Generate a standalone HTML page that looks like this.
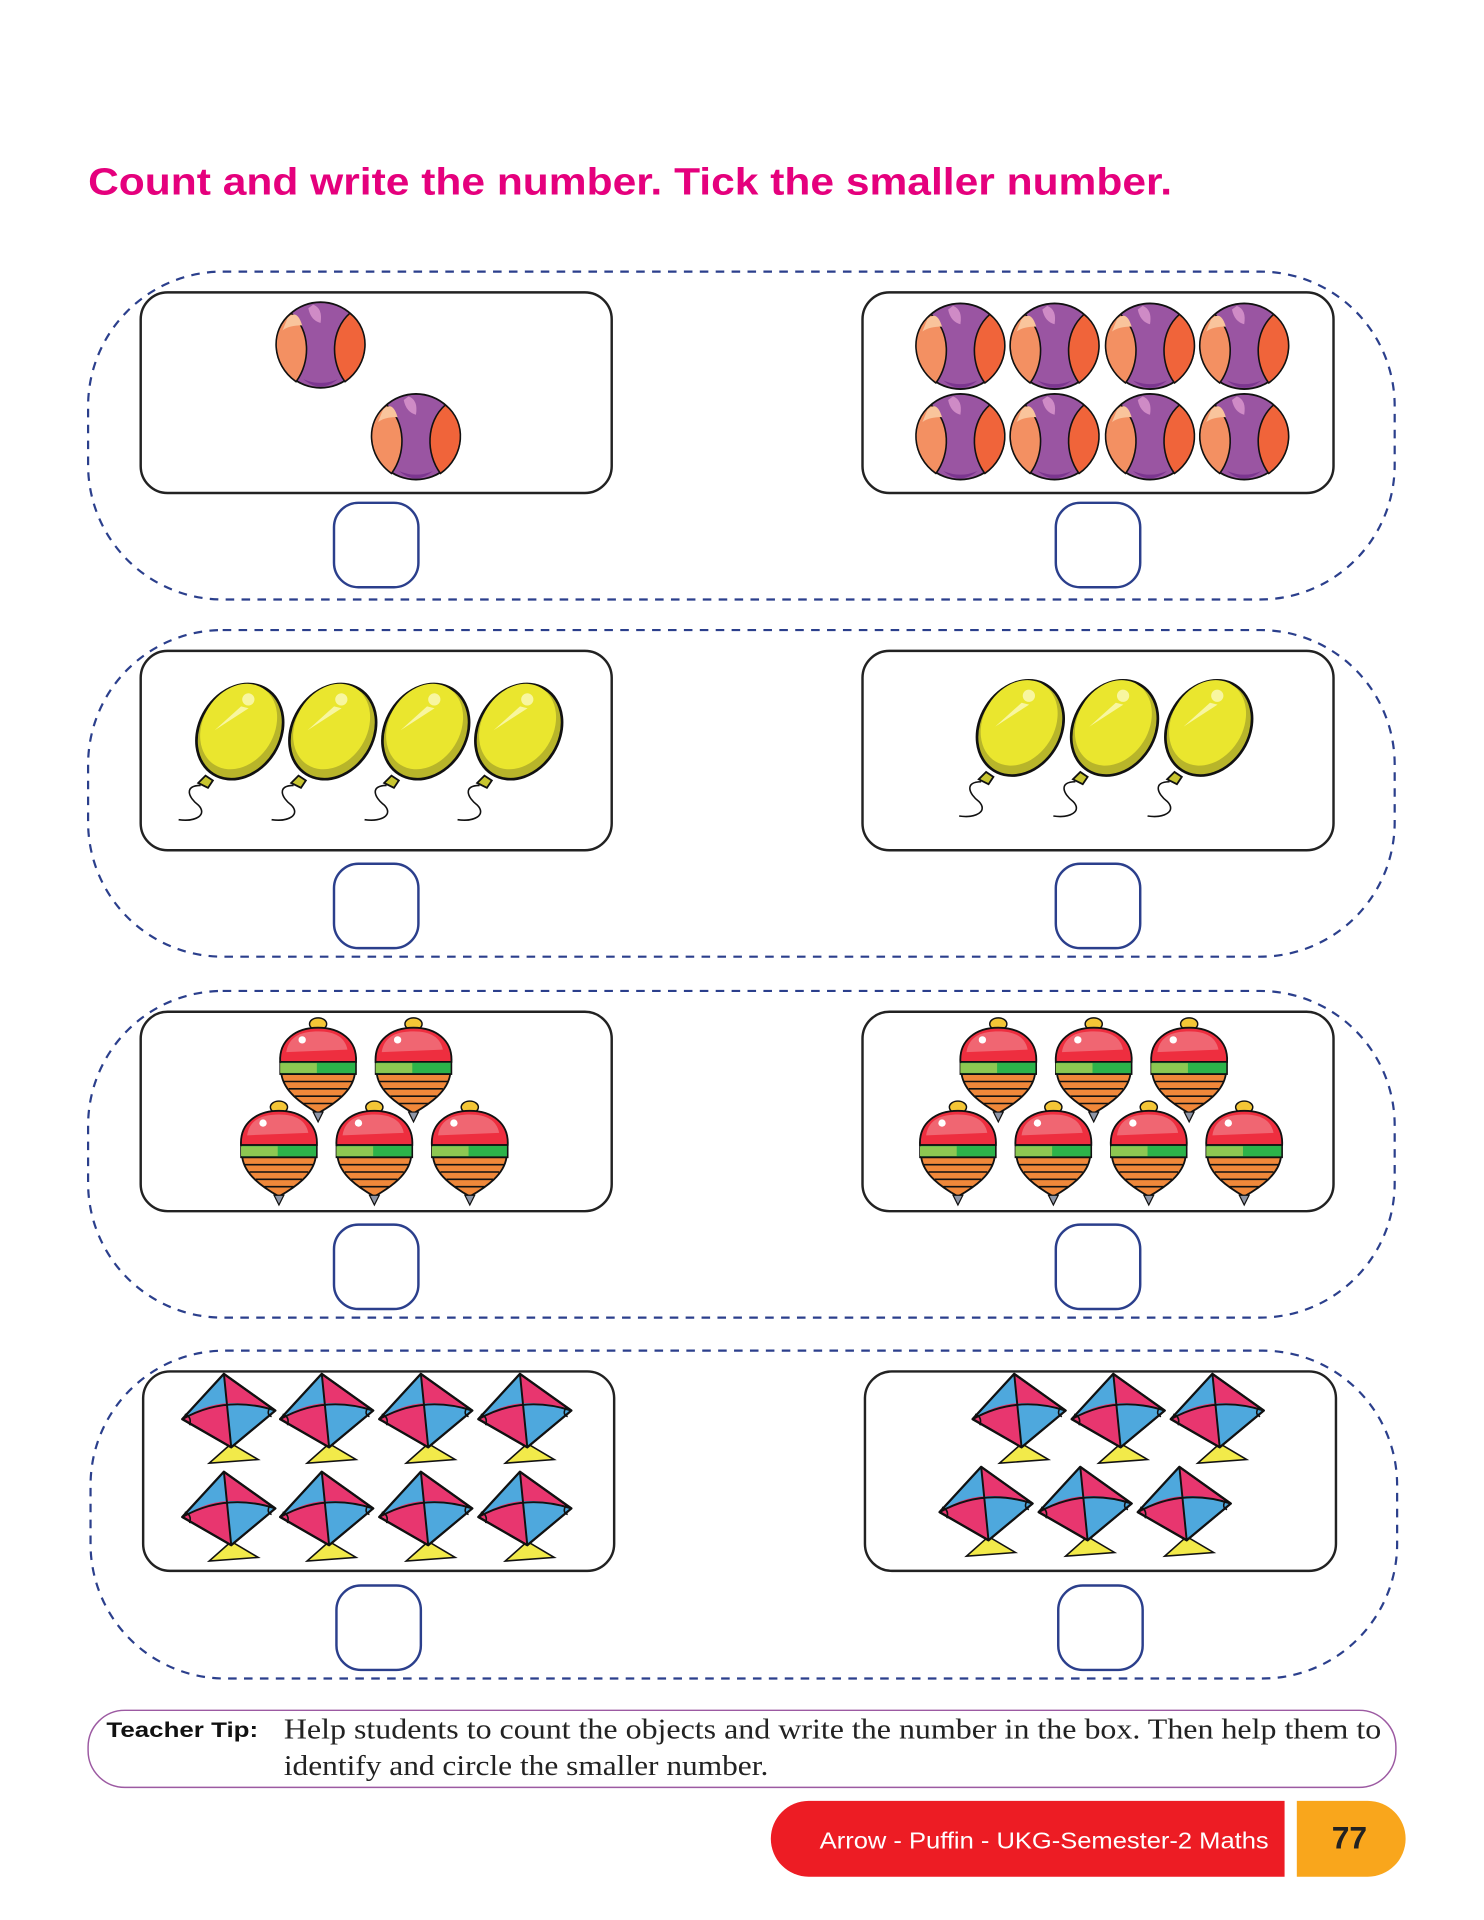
<!DOCTYPE html>
<html><head><meta charset="utf-8"><style>
html,body{margin:0;padding:0;background:#fff;}
svg{display:block;}
</style></head><body>
<svg width="1484" height="1920" viewBox="0 0 1213 1569.4" xmlns="http://www.w3.org/2000/svg">
<defs>
<g id="ball">
  <ellipse cx="0" cy="0" rx="36" ry="35" fill="#9a55a2" stroke="#111" stroke-width="1.5"/>
  <path d="M-24,-26 C-42,-12 -40,16 -20,30 C-8,14 -8,-12 -24,-26Z" fill="#f39062" stroke="#111" stroke-width="1.3"/>
  <path d="M-27,-22 C-22,-27 -18,-26 -15,-16 C-22,-16 -27,-15 -31,-12Z" fill="#f9c49c"/>
  <path d="M24,-26 C42,-12 40,16 20,30 C8,14 8,-12 24,-26Z" fill="#f0643a" stroke="#111" stroke-width="1.3"/>
  <path d="M-6,-33 Q2,-30 0,-18 Q-8,-20 -10,-30Z" fill="#cf8bc6"/>
  <path d="M-14,28 Q0,40 14,28 Q0,34 -14,28Z" fill="#7c3690"/>
</g>
<g id="balloon">
  <g transform="rotate(32)">
    <ellipse cx="0" cy="0" rx="33" ry="41" fill="#b8b52a" stroke="#111" stroke-width="2.2"/>
    <ellipse cx="-3" cy="-3" rx="29" ry="37" fill="#eae62e"/>
    <circle cx="-8" cy="-26" r="5" fill="#f8f6a0"/>
    <path d="M-10,-18 L-4,-20 L-18,10 Z" fill="#f8f6a0"/>
  </g>
  <path d="M-28,36 L-34,42 L-26,46 L-22,40Z" fill="#c8c530" stroke="#111" stroke-width="1.5"/>
  <path d="M-32,44 C-46,44 -42,54 -34,60 C-26,68 -36,74 -50,72" fill="none" stroke="#111" stroke-width="1.3"/>
</g>
<g id="top">
  <ellipse cx="0" cy="-35" rx="7" ry="5" fill="#f4c636" stroke="#111" stroke-width="1.2"/>
  <path d="M-31,-4 C-32,-22 -18,-32 0,-32 C18,-32 32,-22 31,-4 Z" fill="#ee2e3f" stroke="#111" stroke-width="1.5"/>
  <path d="M-26,-12 C-24,-26 -12,-29 0,-29 C14,-29 22,-24 24,-14 Z" fill="#f06672"/>
  <circle cx="-13" cy="-22" r="3" fill="#fff"/>
  <rect x="-31" y="-4" width="62" height="10" fill="#2cb34a" stroke="#111" stroke-width="1.3"/>
  <rect x="-31" y="-3" width="30" height="8" fill="#8dc852"/>
  <path d="M-30,6 L30,6 C28,20 14,30 0,38 C-14,30 -28,20 -30,6Z" fill="#f0883a" stroke="#111" stroke-width="1.5"/>
  <path d="M-28,12 L28,12 M-24,18 L24,18 M-19,24 L19,24 M-12,30 L12,30" stroke="#111" stroke-width="1.3"/>
  <path d="M-4,37 L0,45 L4,37Z" fill="#8f96a6" stroke="#111" stroke-width="1"/>
</g>
<g id="kite">
  <path d="M2,24 L-16,40 L24,37 Z" fill="#f2ea4a" stroke="#111" stroke-width="1.3"/>
  <path d="M-4,-33 L38,-3 L2,27 L-38,4 Z" fill="#e8366f" stroke="#111" stroke-width="1.8" stroke-linejoin="round"/>
  <path d="M-4,-33 L-38,4 Q-20,-8 -2,-9 Z" fill="#4ea8dd"/>
  <path d="M-2,-9 Q20,-10 38,-3 L2,27 Z" fill="#4ea8dd"/>
  <path d="M-4,-33 L-38,4 L2,27 L38,-3 Z" fill="none" stroke="#111" stroke-width="1.8" stroke-linejoin="round"/>
  <path d="M-4,-33 L2,27 M-38,4 Q-2,-16 38,-3" fill="none" stroke="#111" stroke-width="1.6"/>
  <path d="M-36,0 Q-30,2 -32,9" fill="none" stroke="#111" stroke-width="1.3"/>
  <path d="M34,-6 Q30,0 35,2" fill="none" stroke="#111" stroke-width="1.3"/>
</g>
</defs>

<text x="72" y="159" font-family="Liberation Sans, sans-serif" font-weight="bold" font-size="31" fill="#e5007d" textLength="886" lengthAdjust="spacingAndGlyphs">Count and write the number. Tick the smaller number.</text>

<g fill="none" stroke="#2b3f8c" stroke-width="1.8" stroke-dasharray="7,6">
  <rect x="72" y="222" width="1068" height="268" rx="110"/>
  <rect x="72" y="515" width="1068" height="267" rx="110"/>
  <rect x="72" y="810" width="1068" height="267" rx="110"/>
  <rect x="74" y="1104" width="1068" height="268" rx="110"/>
</g>
<g fill="#fff" stroke="#222" stroke-width="2">
  <rect x="115" y="239" width="385" height="164" rx="22"/>
  <rect x="705" y="239" width="385" height="164" rx="22"/>
  <rect x="115" y="532" width="385" height="163" rx="22"/>
  <rect x="705" y="532" width="385" height="163" rx="22"/>
  <rect x="115" y="827" width="385" height="163" rx="22"/>
  <rect x="705" y="827" width="385" height="163" rx="22"/>
  <rect x="117" y="1121" width="385" height="163" rx="22"/>
  <rect x="707" y="1121" width="385" height="163" rx="22"/>
</g>
<g fill="#fff" stroke="#2b3f8c" stroke-width="2">
  <rect x="273" y="411" width="69" height="69" rx="20"/>
  <rect x="863" y="411" width="69" height="69" rx="20"/>
  <rect x="273" y="706" width="69" height="69" rx="20"/>
  <rect x="863" y="706" width="69" height="69" rx="20"/>
  <rect x="273" y="1001" width="69" height="69" rx="20"/>
  <rect x="863" y="1001" width="69" height="69" rx="20"/>
  <rect x="275" y="1296" width="69" height="69" rx="20"/>
  <rect x="865" y="1296" width="69" height="69" rx="20"/>
</g>

<use href="#ball" x="262" y="282"/><use href="#ball" x="340" y="357"/>
<use href="#ball" x="785" y="283"/><use href="#ball" x="862" y="283"/><use href="#ball" x="940" y="283"/><use href="#ball" x="1017" y="283"/>
<use href="#ball" x="785" y="357"/><use href="#ball" x="862" y="357"/><use href="#ball" x="940" y="357"/><use href="#ball" x="1017" y="357"/>

<use href="#balloon" x="196" y="598"/><use href="#balloon" x="272" y="598"/><use href="#balloon" x="348" y="598"/><use href="#balloon" x="424" y="598"/>
<use href="#balloon" x="834" y="595"/><use href="#balloon" x="911" y="595"/><use href="#balloon" x="988" y="595"/>

<use href="#top" x="260" y="872"/><use href="#top" x="338" y="872"/>
<use href="#top" x="228" y="940"/><use href="#top" x="306" y="940"/><use href="#top" x="384" y="940"/>
<use href="#top" x="816" y="872"/><use href="#top" x="894" y="872"/><use href="#top" x="972" y="872"/>
<use href="#top" x="783" y="940"/><use href="#top" x="861" y="940"/><use href="#top" x="939" y="940"/><use href="#top" x="1017" y="940"/>

<use href="#kite" x="187" y="1156"/><use href="#kite" x="267" y="1156"/><use href="#kite" x="348" y="1156"/><use href="#kite" x="429" y="1156"/>
<use href="#kite" x="187" y="1236"/><use href="#kite" x="267" y="1236"/><use href="#kite" x="348" y="1236"/><use href="#kite" x="429" y="1236"/>
<use href="#kite" x="833" y="1156"/><use href="#kite" x="914" y="1156"/><use href="#kite" x="995" y="1156"/>
<use href="#kite" x="806" y="1232"/><use href="#kite" x="887" y="1232"/><use href="#kite" x="968" y="1232"/>

<rect x="72" y="1398" width="1069" height="63" rx="30" fill="#fff" stroke="#9c5aa2" stroke-width="1.2"/>
<text x="87" y="1420" font-family="Liberation Sans, sans-serif" font-weight="bold" font-size="17" fill="#111" textLength="124" lengthAdjust="spacingAndGlyphs">Teacher Tip:</text>
<text x="232" y="1421" font-family="Liberation Serif, serif" font-size="23" fill="#222" textLength="897" lengthAdjust="spacingAndGlyphs">Help students to count the objects and write the number in the box. Then help them to</text>
<text x="232" y="1451" font-family="Liberation Serif, serif" font-size="23" fill="#222" textLength="396" lengthAdjust="spacingAndGlyphs">identify and circle the smaller number.</text>

<path d="M661,1472 L1050,1472 L1050,1534 L661,1534 A31,31 0 0 1 661,1472Z" fill="#ed1c24"/>
<path d="M1060,1472 L1118,1472 A31,31 0 0 1 1118,1534 L1060,1534Z" fill="#f9a61c"/>
<text x="670" y="1511" font-family="Liberation Sans, sans-serif" font-size="19" fill="#fff" textLength="367" lengthAdjust="spacingAndGlyphs">Arrow - Puffin - UKG-Semester-2 Maths</text>
<text x="1103" y="1511" text-anchor="middle" font-family="Liberation Sans, sans-serif" font-weight="bold" font-size="26" fill="#222">77</text>
</svg>
</body></html>
